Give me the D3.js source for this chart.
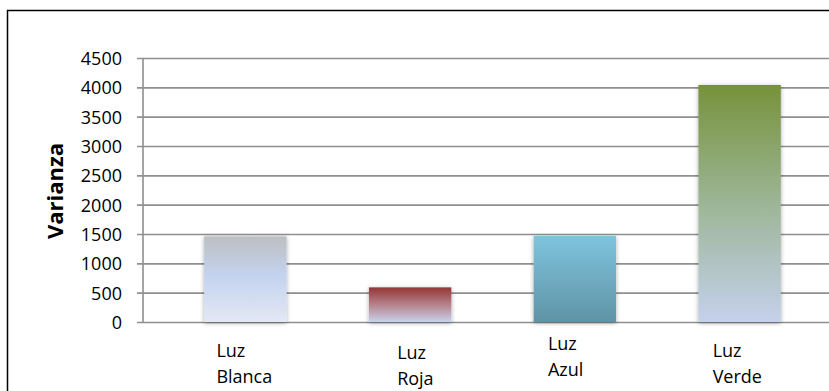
<!DOCTYPE html>
<html>
<head>
<meta charset="utf-8">
<script src="https://cdn.jsdelivr.net/npm/d3@7/dist/d3.min.js"></script>
<style>
  html, body { margin: 0; padding: 0; background: #fff; }
  svg { display: block; font-family: "Open Sans", sans-serif; }
</style>
</head>
<body>
<svg id="chart" width="829" height="391"></svg>
<script>
// Variance per light colour
const categories = ["Luz Blanca", "Luz Roja", "Luz Azul", "Luz Verde"];
const values = [1460, 590, 1465, 4040];
const yTicks = [0, 500, 1000, 1500, 2000, 2500, 3000, 3500, 4000, 4500];
const yTitle = "Varianza";

// Gradient stops for each bar (top → bottom)
const gradients = [
  [["0%", "#bdbfc2"], ["45%", "#c3d2ee"], ["100%", "#e3e9f5"]],
  [["0%", "#943634"], ["55%", "#b88a95"], ["100%", "#c7d2ec"]],
  [["0%", "#7ec4dd"], ["100%", "#6093a6"]],
  [["0%", "#76923b"], ["50%", "#9db596"], ["100%", "#c5d1ec"]]
];

const svg = d3.select("#chart");
const axisX = 143, plotTop = 58, plotBottom = 322;

const y = d3.scaleLinear().domain([0, 4500]).range([plotBottom, plotTop]);
const x = d3.scaleBand().domain(categories).range([163, 822]).paddingInner(0.5).paddingOuter(0.25);

const defs = svg.append("defs");
gradients.forEach((stops, i) => {
  const g = defs.append("linearGradient").attr("id", "g" + i)
    .attr("x1", 0).attr("y1", 0).attr("x2", 0).attr("y2", 1);
  stops.forEach(([o, c]) => g.append("stop").attr("offset", o).attr("stop-color", c));
});
const f = defs.append("filter").attr("id", "shadow")
  .attr("x", "-20%").attr("y", "-20%").attr("width", "140%").attr("height", "140%");
f.append("feDropShadow").attr("dx", 0).attr("dy", 1).attr("stdDeviation", 2)
  .attr("flood-color", "#000").attr("flood-opacity", 0.35);

// Outer frame
svg.append("rect").attr("x", 7.5).attr("y", 10.5).attr("width", 900).attr("height", 500)
  .attr("fill", "none").attr("stroke", "#000").attr("stroke-width", 1.5);

// Gridlines with left tick stubs
const yAxis = d3.axisLeft(y).tickValues(yTicks).tickFormat(d3.format("d")).tickSize(0).tickPadding(0);
const gy = svg.append("g").attr("transform", `translate(${axisX},0)`).call(yAxis);
gy.select(".domain").remove();
gy.selectAll(".tick line").remove();
gy.selectAll(".tick").append("line")
  .attr("x1", -6).attr("x2", 829 - axisX)
  .attr("stroke", "#8f8f8f").attr("stroke-width", 1.6);
gy.selectAll(".tick text")
  .attr("x", -21).attr("dy", "0.36em")
  .attr("fill", "#000").style("font-size", "18px").style("font-family", "'Open Sans', sans-serif");

// Vertical axis line
svg.append("line").attr("x1", axisX).attr("x2", axisX)
  .attr("y1", plotTop).attr("y2", plotBottom)
  .attr("stroke", "#8f8f8f").attr("stroke-width", 1.6);

// Bars
svg.append("g").selectAll("rect").data(values).join("rect")
  .attr("x", (d, i) => x(categories[i]))
  .attr("width", x.bandwidth())
  .attr("y", d => y(d))
  .attr("height", d => y(0) - y(d))
  .attr("fill", (d, i) => `url(#g${i})`)
  .attr("filter", "url(#shadow)");

// Category labels, wrapped on two lines
const labelOffsets = [[-29, 357], [-13, 359], [-27, 350], [-27, 357]];
categories.forEach((c, i) => {
  const words = c.split(" ");
  const cx = x(c) + x.bandwidth() / 2;
  const t = svg.append("text")
    .attr("x", cx + labelOffsets[i][0]).attr("y", labelOffsets[i][1])
    .style("font-size", "18px").attr("fill", "#000");
  words.forEach((w, k) => t.append("tspan")
    .attr("x", cx + labelOffsets[i][0]).attr("dy", k ? 26 : 0).text(w));
});

// Axis title
svg.append("text")
  .attr("transform", "translate(63,191) rotate(-90)")
  .attr("text-anchor", "middle")
  .style("font-size", "22px").style("font-weight", "bold")
  .text(yTitle);
</script>
</body>
</html>
